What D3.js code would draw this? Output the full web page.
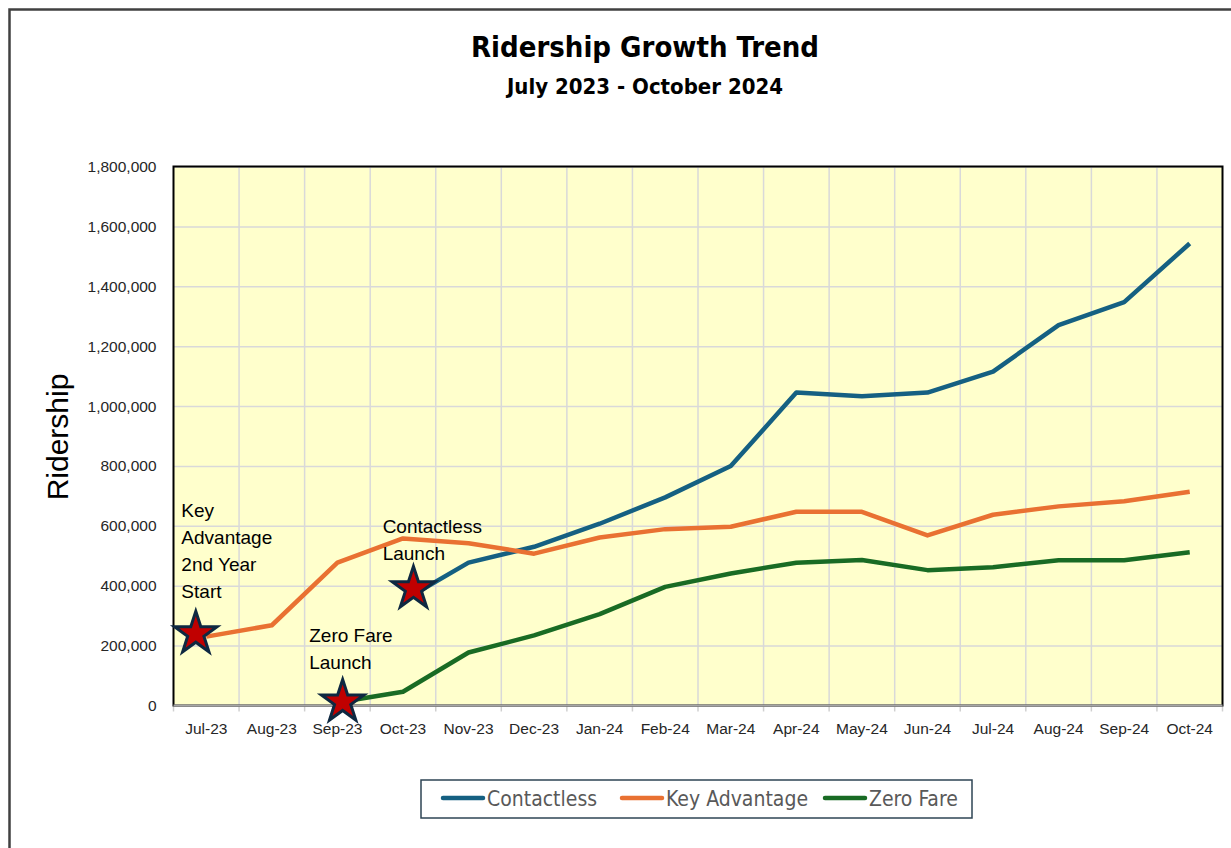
<!DOCTYPE html>
<head>
  <meta charset="utf-8">
  <script src="https://d3js.org/d3.v7.min.js"></script>
  <style>
    body { margin:0; background:white; }
    .title { font-family: 'Liberation Sans Narrow', 'DejaVu Sans Condensed', sans-serif; font-weight: 700; fill: black; }
    .tick text { font-family: 'Liberation Sans', Arial, sans-serif; font-size: 15.5px; fill: #262626; }
    .note { font-family: 'Liberation Sans', Arial, sans-serif; font-size: 19px; fill: black; }
    .legendText { font-family: 'Liberation Sans Narrow', 'DejaVu Sans Condensed', sans-serif; font-size: 21px; fill: #595959; }
  </style>
</head>
<body>
<script>
// chart data
const months = ["Jul-23","Aug-23","Sep-23","Oct-23","Nov-23","Dec-23","Jan-24","Feb-24",
                "Mar-24","Apr-24","May-24","Jun-24","Jul-24","Aug-24","Sep-24","Oct-24"];
const contactless  = [null, null, null, 350000, 477000, 530000, 607000, 695000,
                      800000, 1045000, 1033000, 1045000, 1115000, 1270000, 1347000, 1543000];
const keyAdvantage = [230000, 268000, 477000, 558000, 542000, 507000, 561000, 589000,
                      597000, 647000, 647000, 568000, 637000, 665000, 682000, 714000];
const zeroFare     = [null, null, 10000, 46000, 177000, 234000, 305000, 396000,
                      441000, 477000, 486000, 452000, 462000, 485000, 485000, 512000];
const yTicks = [0, 200000, 400000, 600000, 800000, 1000000, 1200000, 1400000, 1600000, 1800000];

// launch markers (position in month index units)
const starPos   = [-0.16, 2.08, 3.16];
const starValue = [240000, 12000, 390000];
const noteLines = [["Key", "Advantage", "2nd Year", "Start"], ["Zero Fare", "Launch"], ["Contactless", "Launch"]];
const noteAt    = [[-0.38, 630000], [1.57, 212000], [2.69, 577000]];

const series = [
  { name: "Contactless",   values: contactless,  color: "#156082" },
  { name: "Key Advantage", values: keyAdvantage, color: "#E97132" },
  { name: "Zero Fare",     values: zeroFare,     color: "#196B24" }
];

const W = 1231, H = 848;
const plot = { left: 173.5, right: 1222.5, top: 166.5, bottom: 705.5 };

const svg = d3.select('body').append('svg')
  .attr('width', W).attr('height', H)
  .style('display', 'block');

// outer frame
svg.append('path')
  .attr('d', `M9.5,${H} V9.5 H${W}`)
  .attr('fill', 'none').attr('stroke', '#404040').attr('stroke-width', 2.5);

// titles
svg.append('text').classed('title', true)
  .attr('x', 645).attr('y', 57).attr('text-anchor', 'middle')
  .style('font-size', '29px').text('Ridership Growth Trend');
svg.append('text').classed('title', true)
  .attr('x', 645).attr('y', 94).attr('text-anchor', 'middle')
  .style('font-size', '22px').text('July 2023 - October 2024');

// scales
const xBand = d3.scaleBand().domain(months).range([plot.left, plot.right]);
const xIdx = d3.scaleLinear().domain([-0.5, months.length - 0.5]).range([plot.left, plot.right]);
const y = d3.scaleLinear().domain([0, 1800000]).range([plot.bottom, plot.top]);

// plot background
svg.append('rect')
  .attr('x', plot.left).attr('y', plot.top)
  .attr('width', plot.right - plot.left).attr('height', plot.bottom - plot.top)
  .attr('fill', '#FFFFCC');

// horizontal grid
svg.append('g')
  .attr('transform', `translate(${plot.left},0)`)
  .call(d3.axisLeft(y).tickValues(yTicks).tickSize(-(plot.right - plot.left)).tickFormat(''))
  .call(g => g.select('.domain').remove())
  .call(g => g.selectAll('line').attr('stroke', '#D9D9D9').attr('stroke-width', 1.5));

// vertical grid + x tick marks at month boundaries
const bounds = d3.range(months.length + 1).map(i => plot.left + i * xBand.step());
svg.append('g').selectAll('line')
  .data(bounds.slice(1, -1))
  .enter().append('line')
  .attr('x1', d => d).attr('x2', d => d)
  .attr('y1', plot.top).attr('y2', plot.bottom)
  .attr('stroke', '#D9D9D9').attr('stroke-width', 1.5);
svg.append('g').selectAll('line')
  .data(bounds)
  .enter().append('line')
  .attr('x1', d => d).attr('x2', d => d)
  .attr('y1', plot.bottom).attr('y2', plot.bottom + 6)
  .attr('stroke', '#D0D0D0').attr('stroke-width', 1.5);

// plot border
svg.append('rect')
  .attr('x', plot.left).attr('y', plot.top)
  .attr('width', plot.right - plot.left).attr('height', plot.bottom - plot.top)
  .attr('fill', 'none').attr('stroke', 'black').attr('stroke-width', 2);
svg.append('line')
  .attr('x1', plot.left).attr('x2', plot.right)
  .attr('y1', plot.bottom).attr('y2', plot.bottom)
  .attr('stroke', '#A6A6A6').attr('stroke-width', 2);

// y axis labels
svg.append('g')
  .attr('transform', `translate(${plot.left},0)`)
  .call(d3.axisLeft(y).tickValues(yTicks).tickSize(0).tickPadding(17).tickFormat(d3.format(',')))
  .call(g => g.select('.domain').remove());

// x axis labels
svg.append('g')
  .attr('transform', `translate(0,${plot.bottom})`)
  .call(d3.axisBottom(xBand).tickSize(0).tickPadding(17))
  .call(g => g.select('.domain').remove());

// y axis title
svg.append('text')
  .attr('transform', 'translate(68,437) rotate(-90)')
  .attr('text-anchor', 'middle')
  .style('font-family', "'Liberation Sans', Arial, sans-serif")
  .style('font-size', '30px')
  .text('Ridership');

// lines
const line = d3.line()
  .defined(d => d != null)
  .x((d, i) => xBand(months[i]) + xBand.bandwidth() / 2)
  .y(d => y(d));

svg.append('g').selectAll('path')
  .data(series)
  .enter().append('path')
  .attr('d', d => line(d.values))
  .attr('fill', 'none')
  .attr('stroke', d => d.color)
  .attr('stroke-width', 4.5)
  .attr('stroke-linejoin', 'round');

// stars
const star = d3.symbol().type(d3.symbolStar).size(560);
svg.append('g').selectAll('path')
  .data(starPos)
  .enter().append('path')
  .attr('d', star)
  .attr('transform', (d, i) => `translate(${xIdx(d)},${y(starValue[i])})`)
  .attr('fill', '#C00000')
  .attr('stroke', '#0E2841')
  .attr('stroke-width', 3)
  .attr('stroke-linejoin', 'miter');

// annotations
const notes = svg.append('g').selectAll('text')
  .data(noteLines)
  .enter().append('text')
  .classed('note', true)
  .attr('x', (d, i) => xIdx(noteAt[i][0]))
  .attr('y', (d, i) => y(noteAt[i][1]));
notes.selectAll('tspan')
  .data(d => d)
  .enter().append('tspan')
  .attr('x', function() { return d3.select(this.parentNode).attr('x'); })
  .attr('dy', (d, i) => i === 0 ? 0 : 27)
  .text(d => d);

// legend
const legend = svg.append('g').attr('transform', 'translate(421,780)');
legend.append('rect')
  .attr('width', 551).attr('height', 38)
  .attr('fill', 'white').attr('stroke', '#2E4454').attr('stroke-width', 1.5);
const legendX = [22, 201, 404];
const keys = legend.selectAll('.legendKey')
  .data(series)
  .enter().append('g')
  .classed('legendKey', true)
  .attr('transform', (d, i) => `translate(${legendX[i]},18)`);
keys.append('line')
  .attr('x1', 0).attr('x2', 40)
  .attr('stroke', d => d.color).attr('stroke-width', 4.5).attr('stroke-linecap', 'round');
keys.append('text')
  .classed('legendText', true)
  .attr('x', 44).attr('y', 7.5)
  .text(d => d.name);
</script>
</body>
